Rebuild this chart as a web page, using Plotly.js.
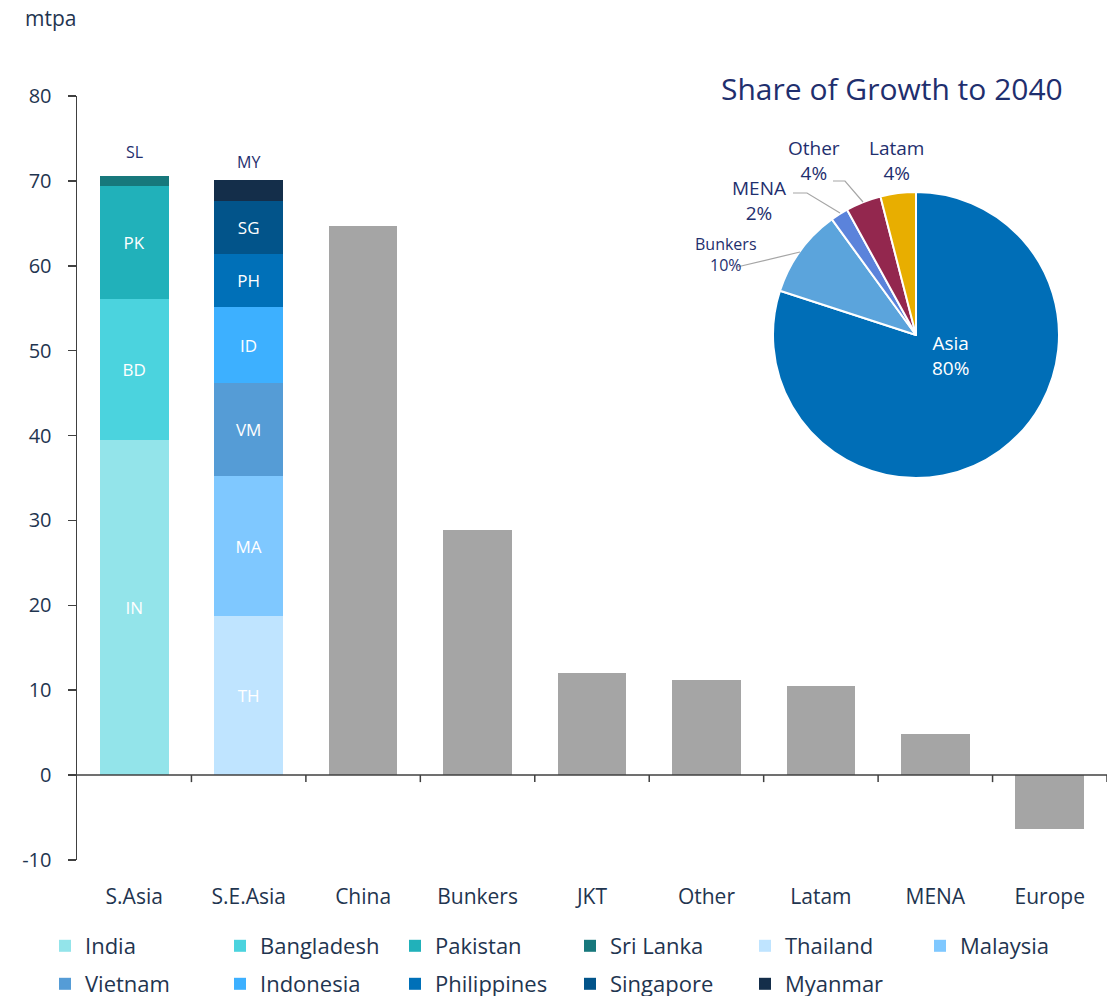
<!DOCTYPE html>
<html>
<head>
<meta charset="utf-8">
<script src="https://cdn.plot.ly/plotly-3.0.1.min.js"></script>
<style>html,body{margin:0;padding:0;background:#fff;}#chart{width:1117px;height:996px;}</style>
</head>
<body>
<div id="chart"></div>
<script>
// ---- data ----
const categories = ['S.Asia','S.E.Asia','China','Bunkers','JKT','Other','Latam','MENA','Europe'];
const countryNames = ['India','Bangladesh','Pakistan','Sri Lanka','Thailand','Malaysia','Vietnam','Indonesia','Philippines','Singapore','Myanmar'];
const countryCodes = ['IN','BD','PK','SL','TH','MA','VM','ID','PH','SG','MY'];
const countryRegion = ['S.Asia','S.Asia','S.Asia','S.Asia','S.E.Asia','S.E.Asia','S.E.Asia','S.E.Asia','S.E.Asia','S.E.Asia','S.E.Asia'];
const countryValues = [39.5, 16.6, 13.3, 1.2, 18.7, 16.5, 11.0, 8.9, 6.3, 6.2, 2.5];
const otherCategories = ['China','Bunkers','JKT','Other','Latam','MENA','Europe'];
const otherValues = [64.7, 28.9, 12.0, 11.2, 10.5, 4.8, -6.4];
const pieLabels = ['Asia','Bunkers','MENA','Other','Latam'];
const pieValues = [80, 10, 2, 4, 4];
const yTickVals = [-10, 0, 10, 20, 30, 40, 50, 60, 70, 80];
const yTickText = ['-10', '0', '10', '20', '30', '40', '50', '60', '70', '80'];

// ---- styles ----
const countryColors = ['#93E4EA','#4BD3DE','#21B1BA','#17787C','#BFE4FF','#7FC8FF','#559CD6','#3DB0FF','#0070B8','#02548A','#142E4A'];
const outsideCodes = ['SL','MY'];
const outsideShift = {SL:24, MY:18};
const pieColors = ['#006EB7','#5BA4DC','#5B83DB','#93274E','#E8AE00'];
const FONT = '"Open Sans", "Noto Sans", sans-serif';
const TXT = '#1F3550';
const NAVY = '#1F2F6E';

const PL=77, PR=1107, PT=96, PB=860;
const px = x => (x-PL)/(PR-PL);
const py = y => (PB-y)/(PB-PT);

const traces = [];
countryNames.forEach((n,i)=>{
  const outside = outsideCodes.includes(countryCodes[i]);
  traces.push({
    type:'bar', name:n, x:[countryRegion[i]], y:[countryValues[i]],
    text:[countryCodes[i]], textposition: outside ? 'none' : 'inside',
    insidetextanchor:'middle', textangle:0, constraintext:'none',
    textfont:{color:'#ffffff', size:17, family:FONT},
    marker:{color:countryColors[i], line:{width:0}},
    width:0.6, hoverinfo:'name+y',
    legend: i < 6 ? 'legend' : 'legend2'
  });
});
traces.push({
  type:'bar', name:'Regions', x:otherCategories, y:otherValues,
  marker:{color:'#A5A5A5'}, width:0.6, showlegend:false, textposition:'none'
});
traces.push({
  type:'pie', labels:pieLabels, values:pieValues, sort:false, direction:'clockwise', rotation:0,
  marker:{colors:pieColors, line:{color:'#ffffff', width:2}},
  textinfo:'none', showlegend:false, hole:0,
  domain:{x:[px(773), px(1059)], y:[py(478), py(192)]}
});

const annotations = [];
// SL / MY labels above stacks
outsideCodes.forEach(code=>{
  const i = countryCodes.indexOf(code);
  const reg = countryRegion[i];
  let total = 0;
  countryValues.forEach((v,j)=>{ if(countryRegion[j]===reg) total += v; });
  annotations.push({x:reg, y:total, xref:'x', yref:'y', text:code, showarrow:false,
    xanchor:'center', yanchor:'middle',
    yshift:outsideShift[code], font:{size:16, color:NAVY, family:FONT}});
});
// axis unit
annotations.push({xref:'paper', yref:'paper', x:px(50), y:py(18), text:'mtpa', showarrow:false,
  xanchor:'center', yanchor:'middle', font:{size:21, color:TXT, family:FONT}});
// pie title
annotations.push({xref:'paper', yref:'paper', x:px(892), y:py(89), text:'Share of Growth to 2040', showarrow:false,
  xanchor:'center', yanchor:'middle', font:{size:30, color:NAVY, family:FONT}});
// pie labels
const pieLabelPos = {Asia:[950,355,19,'#ffffff'], Bunkers:[726,254,16,NAVY], MENA:[759,200,19,NAVY], Other:[814,160,19,NAVY], Latam:[896,160,19,NAVY]};
pieLabels.forEach((l,i)=>{
  const p = pieLabelPos[l];
  annotations.push({xref:'paper', yref:'paper', x:px(p[0]), y:py(p[1]), text:l+'<br>'+pieValues[i]+'%',
    xanchor:'center', yanchor:'middle',
    showarrow:false, font:{size:p[2], color:p[3], family:FONT}});
});

const shapes = [];
// zero axis line
shapes.push({type:'line', xref:'paper', yref:'y', x0:0, x1:1, y0:0, y1:0, line:{color:'#404040', width:1.5}, layer:'above'});
for(let k=0;k<categories.length;k++){
  shapes.push({type:'line', xref:'x', yref:'y', ysizemode:'pixel', yanchor:0, x0:k+0.5, x1:k+0.5, y0:0, y1:-7,
    line:{color:'#404040', width:1.5}, layer:'above'});
}
// leader lines
const leader = (pts)=>({type:'path', xref:'paper', yref:'paper',
  path: pts.map((p,i)=>(i?'L':'M')+px(p[0])+','+py(p[1])).join(' '), line:{color:'#A6A6A6', width:1.2}});
shapes.push(leader([[833,181],[845,181],[863,202]]));
shapes.push(leader([[793,193],[807,193],[840,213]]));
shapes.push(leader([[737,267],[800,252]]));

const legendBase = {orientation:'h', xanchor:'left', yanchor:'middle', entrywidth:130, entrywidthmode:'pixels',
  font:{size:22, color:TXT, family:FONT}, bgcolor:'rgba(0,0,0,0)', traceorder:'normal', itemclick:false};

const layout = {
  width:1117, height:996,
  margin:{l:PL, r:1117-PR, t:PT, b:996-PB, autoexpand:false},
  paper_bgcolor:'#ffffff', plot_bgcolor:'#ffffff',
  barmode:'stack', bargap:0.4,
  font:{family:FONT, color:TXT},
  xaxis:{type:'category', categoryorder:'array', categoryarray:categories, range:[-0.5, categories.length-0.5],
    showline:false, showgrid:false, zeroline:false, ticks:'outside', ticklen:18, tickcolor:'rgba(0,0,0,0)',
    tickfont:{size:21, color:TXT, family:FONT}, fixedrange:true, automargin:false},
  yaxis:{range:[-10,80], tickmode:'array', tickvals:yTickVals, ticktext:yTickText, showline:true, linecolor:'#404040', linewidth:1.5,
    ticks:'outside', ticklen:8, tickcolor:'#404040', tickwidth:1.5, showgrid:false, zeroline:false,
    ticklabelstandoff:12, tickfont:{size:20, color:TXT, family:FONT}, fixedrange:true, automargin:false},
  legend: Object.assign({}, legendBase, {x:px(45), y:py(946)}),
  legend2: Object.assign({}, legendBase, {x:px(45), y:py(984)}),
  annotations, shapes,
  showlegend:true
};

Plotly.newPlot('chart', traces, layout, {displayModeBar:false, staticPlot:true});
</script>
</body>
</html>
